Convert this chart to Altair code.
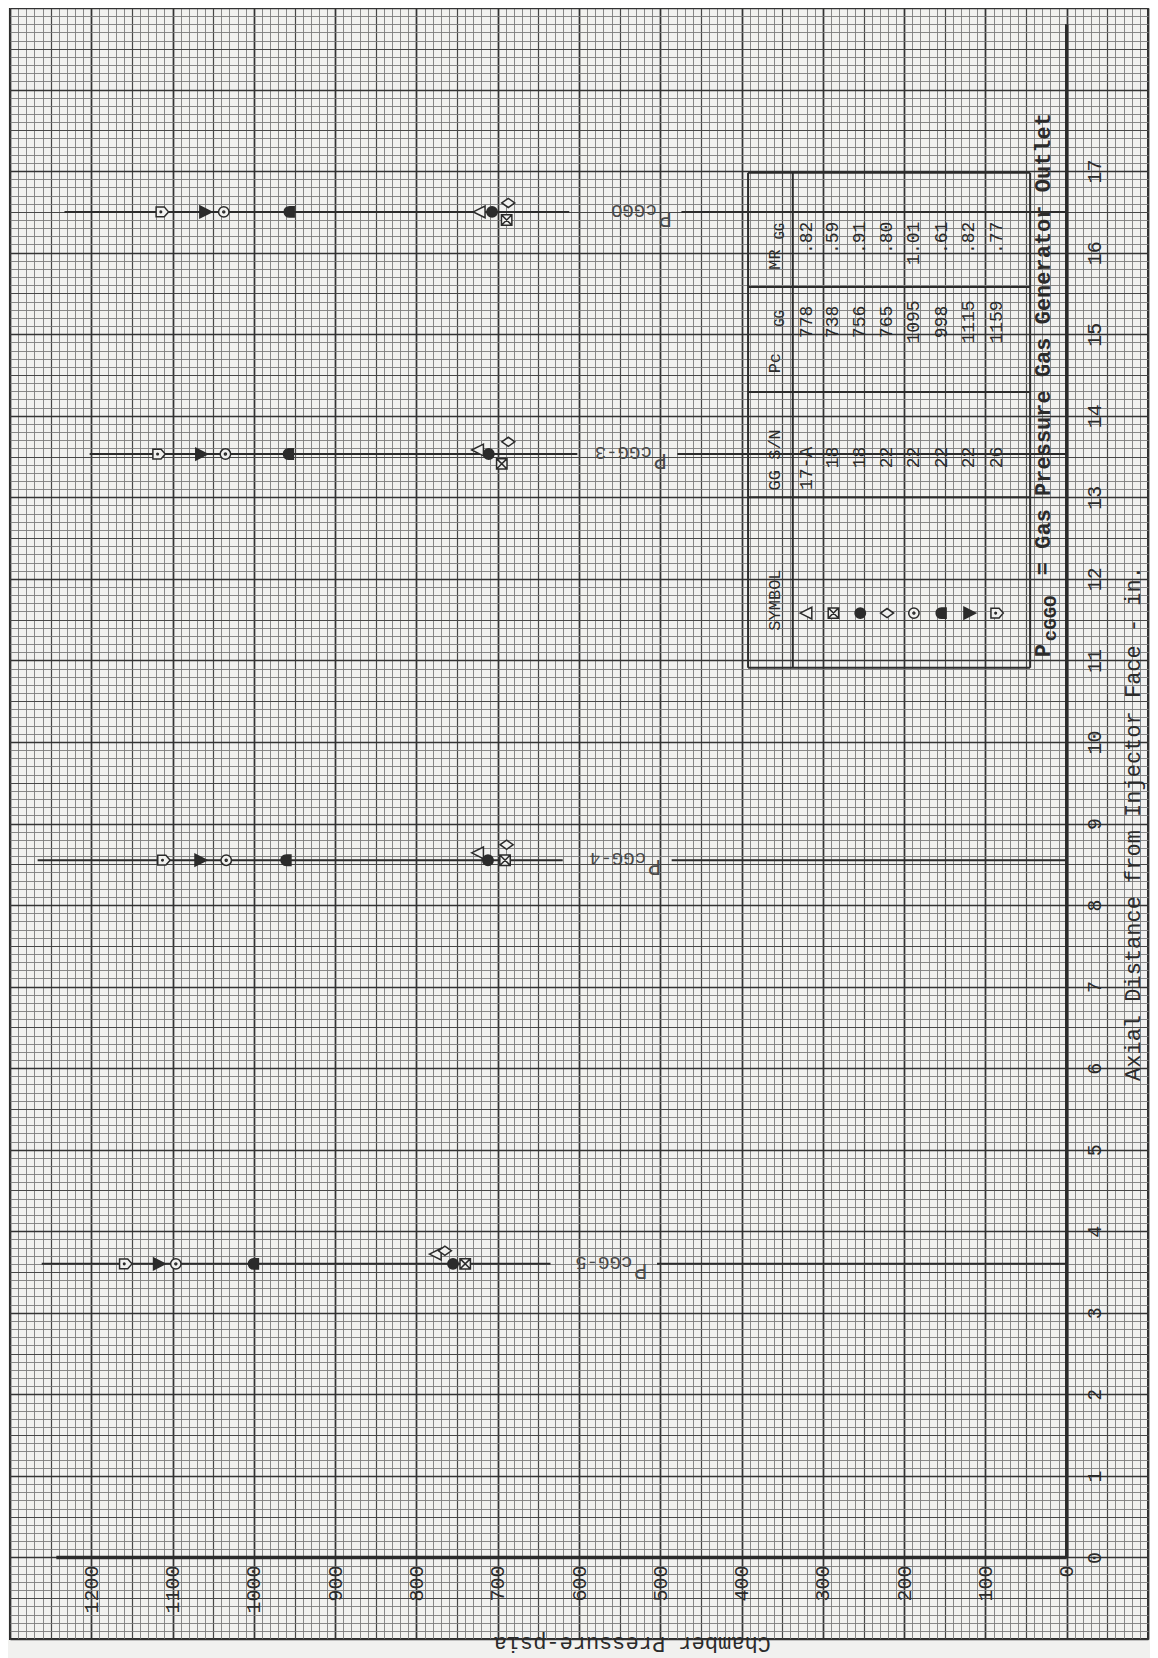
import altair as alt
import pandas as pd

MONO = "Liberation Mono"
INK = "#2b2b2b"
PAPER = "#f1f1ef"

# ---------------- legend table (as printed) ----------------
SYMBOLS = ["tri", "xsq", "dot", "dia", "circ", "bell", "tdown", "pent"]
GG_SN = ["17-A", "18", "18", "22", "22", "22", "22", "26"]
PC_GG = ["778", "738", "756", "765", "1095", "998", "1115", "1159"]
MR_GG = [".82", ".59", ".91", ".80", "1.01", ".61", ".82", ".77"]

# ---------------- measuring stations ----------------
STATIONS = ["cGG-5", "cGG-4", "cGG-3", "cGGO"]
STATION_AXIAL = [3.60, 8.55, 13.53, 16.50]
LINE_START_P = [1261, 1266, 1202, 1233]
LABEL_GAP_HI = [635, 620, 602, 612]
LABEL_GAP_LO = [504, 486, 479, 474]
LABEL_P = [516, 499, 492, 486]

# chamber pressure read for each symbol (legend order) at each station
PC_GG5 = [776, 740, 755, 765, 1096, 1000, 1117, 1158]
PC_GG4 = [724, 691, 712, 689, 1034, 960, 1066, 1111]
PC_GG3 = [724, 695, 711, 687, 1035, 957, 1065, 1117]
PC_GGO = [722, 689, 707, 687, 1037, 956, 1060, 1113]
# small axial displacement of symbols drawn beside each other
SHIFT_GG5 = [0.12, 0.0, 0.0, 0.16, 0.0, 0.0, 0.0, 0.0]
SHIFT_GG4 = [0.09, 0.0, 0.0, 0.19, 0.0, 0.0, 0.0, 0.0]
SHIFT_GG3 = [0.05, -0.12, 0.0, 0.15, 0.0, 0.0, 0.0, 0.0]
SHIFT_GGO = [0.0, -0.10, 0.0, 0.11, 0.0, 0.0, 0.0, 0.0]

PRESSURE_TICKS = list(range(0, 1201, 100))
AXIAL_TICKS = list(range(0, 18))

# table layout on the sheet
TABLE_ROW_P = [320, 287, 254, 221, 188, 154, 120, 86]
TABLE_EDGE_P = [392, 337, 45]
TABLE_EDGE_A = [16.98, 15.58, 14.29, 13.00, 10.91]

# ---------------- symbol glyphs (drawn as on the rotated sheet) ----------------
PATHS = {
    "tri": "M-1,0L0.8,-0.9L0.8,0.9Z",
    "xsq": "M-0.8,-0.8L0.8,-0.8L0.8,0.8L-0.8,0.8Z M-0.8,-0.8L0.8,0.8 M0.8,-0.8L-0.8,0.8",
    "dot": "M-0.8,0A0.8,0.8 0 1,0 0.8,0A0.8,0.8 0 1,0 -0.8,0Z",
    "dia": "M-1,0L0,-0.7L1,0L0,0.7Z",
    "circ": "M-0.8,0A0.8,0.8 0 1,0 0.8,0A0.8,0.8 0 1,0 -0.8,0Z M-0.15,0A0.15,0.15 0 1,0 0.15,0A0.15,0.15 0 1,0 -0.15,0Z",
    "bell": "M0.7,-0.8L0.7,0.8L0,0.8C-1.1,0.8 -1.1,-0.8 0,-0.8Z",
    "tdown": "M1,0L-0.8,-0.9L-0.8,0.9Z",
    "pent": "M-0.9,-0.75L0.35,-0.75L1,0L0.35,0.75L-0.9,0.75Z M-0.3,0A0.12,0.12 0 1,0 -0.06,0A0.12,0.12 0 1,0 -0.3,0Z",
}
FILLS = {"tri": PAPER, "xsq": PAPER, "dot": INK, "dia": PAPER, "circ": PAPER,
         "bell": INK, "tdown": INK, "pent": PAPER}

xs = alt.Scale(domain=[-100, 1300], reverse=True, nice=False, zero=False)
ys = alt.Scale(domain=[-1, 19], nice=False, zero=False)


def grid_axis(values, color, width):
    return alt.Axis(values=values, grid=True, gridColor=color, gridWidth=width,
                    labels=False, ticks=False, domain=False, title=None)


FINE_P = [v * 10 for v in range(-10, 131)]
FINE_A = [round(-1 + v * 0.1, 1) for v in range(201)]
HALF_P = [v * 50 for v in range(-2, 27)]
HALF_A = [round(-1 + v * 0.5, 1) for v in range(41)]
UNIT_P = [v * 100 for v in range(-1, 14)]
UNIT_A = list(range(-1, 20))

# ---------------- frames ----------------
seg = []
for i in range(len(STATIONS)):
    a = STATION_AXIAL[i]
    seg.append(dict(p=LINE_START_P[i], p2=LABEL_GAP_HI[i], a=a, a2=a))
    seg.append(dict(p=LABEL_GAP_LO[i], p2=0, a=a, a2=a))
seg_df = pd.DataFrame(seg)

trows = []
for a in TABLE_EDGE_A:
    trows.append(dict(p=TABLE_EDGE_P[0], p2=TABLE_EDGE_P[-1], a=a, a2=a))
for p in TABLE_EDGE_P:
    trows.append(dict(p=p, p2=p, a=TABLE_EDGE_A[-1], a2=TABLE_EDGE_A[0]))
table_df = pd.DataFrame(trows)

axis_df = pd.DataFrame([dict(p=1243, p2=0, a=0, a2=0), dict(p=0, p2=0, a=0, a2=18.8)])

pts = []
for st, vals, sh in zip(STATION_AXIAL, [PC_GG5, PC_GG4, PC_GG3, PC_GGO],
                        [SHIFT_GG5, SHIFT_GG4, SHIFT_GG3, SHIFT_GGO]):
    for s, v, d in zip(SYMBOLS, vals, sh):
        pts.append(dict(p=v, a=st + d, sym=s))
pts_df = pd.DataFrame(pts)

tsym_df = pd.DataFrame(dict(p=TABLE_ROW_P, a=[11.58] * 8, sym=SYMBOLS))


def rules(df, width, xaxis=None, yaxis=None):
    return alt.Chart(df).mark_rule(color=INK, strokeWidth=width, strokeCap="butt").encode(
        x=alt.X("p:Q", scale=xs, axis=xaxis),
        x2="p2:Q",
        y=alt.Y("a:Q", scale=ys, axis=yaxis),
        y2="a2:Q",
    )


def symbols(df, xaxis=None, yaxis=None):
    return alt.Chart(df).mark_point(filled=True, opacity=1, size=170, stroke=INK,
                                    strokeWidth=1.5).encode(
        x=alt.X("p:Q", scale=xs, axis=xaxis),
        y=alt.Y("a:Q", scale=ys, axis=yaxis),
        shape=alt.Shape("sym:N", scale=alt.Scale(domain=SYMBOLS, range=[PATHS[s] for s in SYMBOLS]), legend=None),
        fill=alt.Fill("sym:N", scale=alt.Scale(domain=SYMBOLS, range=[FILLS[s] for s in SYMBOLS]), legend=None),
    )


def texts(df, angle, align, baseline, size, color=INK, bold=False, dx=0, dy=0):
    return alt.Chart(df).mark_text(angle=angle, align=align, baseline=baseline, font=MONO,
                                   fontSize=size, fontWeight="bold" if bold else "normal",
                                   color=color, dx=dx, dy=dy).encode(
        x=alt.X("p:Q", scale=xs, axis=None),
        y=alt.Y("a:Q", scale=ys, axis=None),
        text="t:N",
    )


x_lab = alt.Axis(values=PRESSURE_TICKS, orient="bottom", offset=-82, grid=False, domain=False,
                 ticks=False, labelAngle=270, labelAlign="right", labelBaseline="middle",
                 labelPadding=8, labelFont=MONO, labelFontSize=20, labelColor=INK,
                 labelOverlap=False, labelFlush=False, format="d", title=None)
y_lab = alt.Axis(values=AXIAL_TICKS, orient="right", offset=-81, grid=False, domain=False,
                 ticks=False, labelAngle=270, labelAlign="center", labelBaseline="top",
                 labelPadding=17, labelFont=MONO, labelFontSize=20, labelColor=INK,
                 labelOverlap=False, labelFlush=False, format="d", title=None)

layers = [
    rules(seg_df, 2.0, grid_axis(FINE_P, "#7c7c7c", 0.9), grid_axis(FINE_A, "#7c7c7c", 0.9)),
    rules(table_df, 2.0, grid_axis(HALF_P, "#474747", 1.2), grid_axis(HALF_A, "#474747", 1.2)),
    rules(axis_df, 3.4, grid_axis(UNIT_P, "#333333", 1.6), grid_axis(UNIT_A, "#333333", 1.6)),
    symbols(pts_df, x_lab, y_lab),
    symbols(tsym_df),
]

# station labels (upside down on the sheet)
lab_df = pd.DataFrame(dict(p=LABEL_P, a=STATION_AXIAL, t=["P"] * 4))
sub_df = pd.DataFrame(dict(p=LABEL_P, a=STATION_AXIAL, t=STATIONS))
layers.append(texts(lab_df, 180, "left", "alphabetic", 22, color="#4a4a4a"))
layers.append(texts(sub_df, 180, "left", "alphabetic", 19, color="#4a4a4a", dx=15, dy=7))

# table contents
layers.append(texts(pd.DataFrame(dict(p=TABLE_ROW_P, a=[16.38] * 8, t=MR_GG)), 270, "right", "middle", 18))
layers.append(texts(pd.DataFrame(dict(p=TABLE_ROW_P, a=[15.15] * 8, t=PC_GG)), 270, "center", "middle", 18))
layers.append(texts(pd.DataFrame(dict(p=TABLE_ROW_P, a=[13.62] * 8, t=GG_SN)), 270, "right", "middle", 18))
layers.append(texts(pd.DataFrame(dict(p=[359, 359], a=[11.74, 13.46], t=["SYMBOL", "GG S/N"])),
                    270, "center", "middle", 17))
layers.append(texts(pd.DataFrame(dict(p=[359, 359], a=[14.52, 15.79], t=["Pc", "MR"])),
                    270, "left", "middle", 17))
layers.append(texts(pd.DataFrame(dict(p=[359, 359], a=[15.09, 16.16], t=["GG", "GG"])),
                    270, "left", "middle", 14, dy=5))

# caption beside the table
cap = pd.DataFrame(dict(p=[29], a=[11.04], t=["P"]))
layers.append(texts(cap, 270, "left", "middle", 22, bold=True))
layers.append(texts(cap.assign(t=["cGGO"]), 270, "left", "middle", 19, bold=True, dx=16, dy=7))
layers.append(texts(cap.assign(t=["= Gas Pressure Gas Generator Outlet"]), 270, "left", "middle",
                    22, bold=True, dx=82))

# axis titles
layers.append(texts(pd.DataFrame(dict(p=[-81.5], a=[9.0], t=["Axial Distance from Injector Face - in."])),
                    270, "center", "middle", 22))
layers.append(texts(pd.DataFrame(dict(p=[364], a=[-1.06], t=["Chamber Pressure-psia"])),
                    180, "left", "middle", 22))

chart = (
    alt.layer(*layers)
    .resolve_axis(x="independent", y="independent")
    .properties(width=1138, height=1631,
                padding={"left": 2, "top": 0, "right": 2, "bottom": 19},
                autosize=alt.AutoSizeParams(type="none"),
                background=PAPER)
    .configure_view(stroke=INK, strokeWidth=2)
)

chart.save("out.html", embed_options={"renderer": "svg", "actions": False})
